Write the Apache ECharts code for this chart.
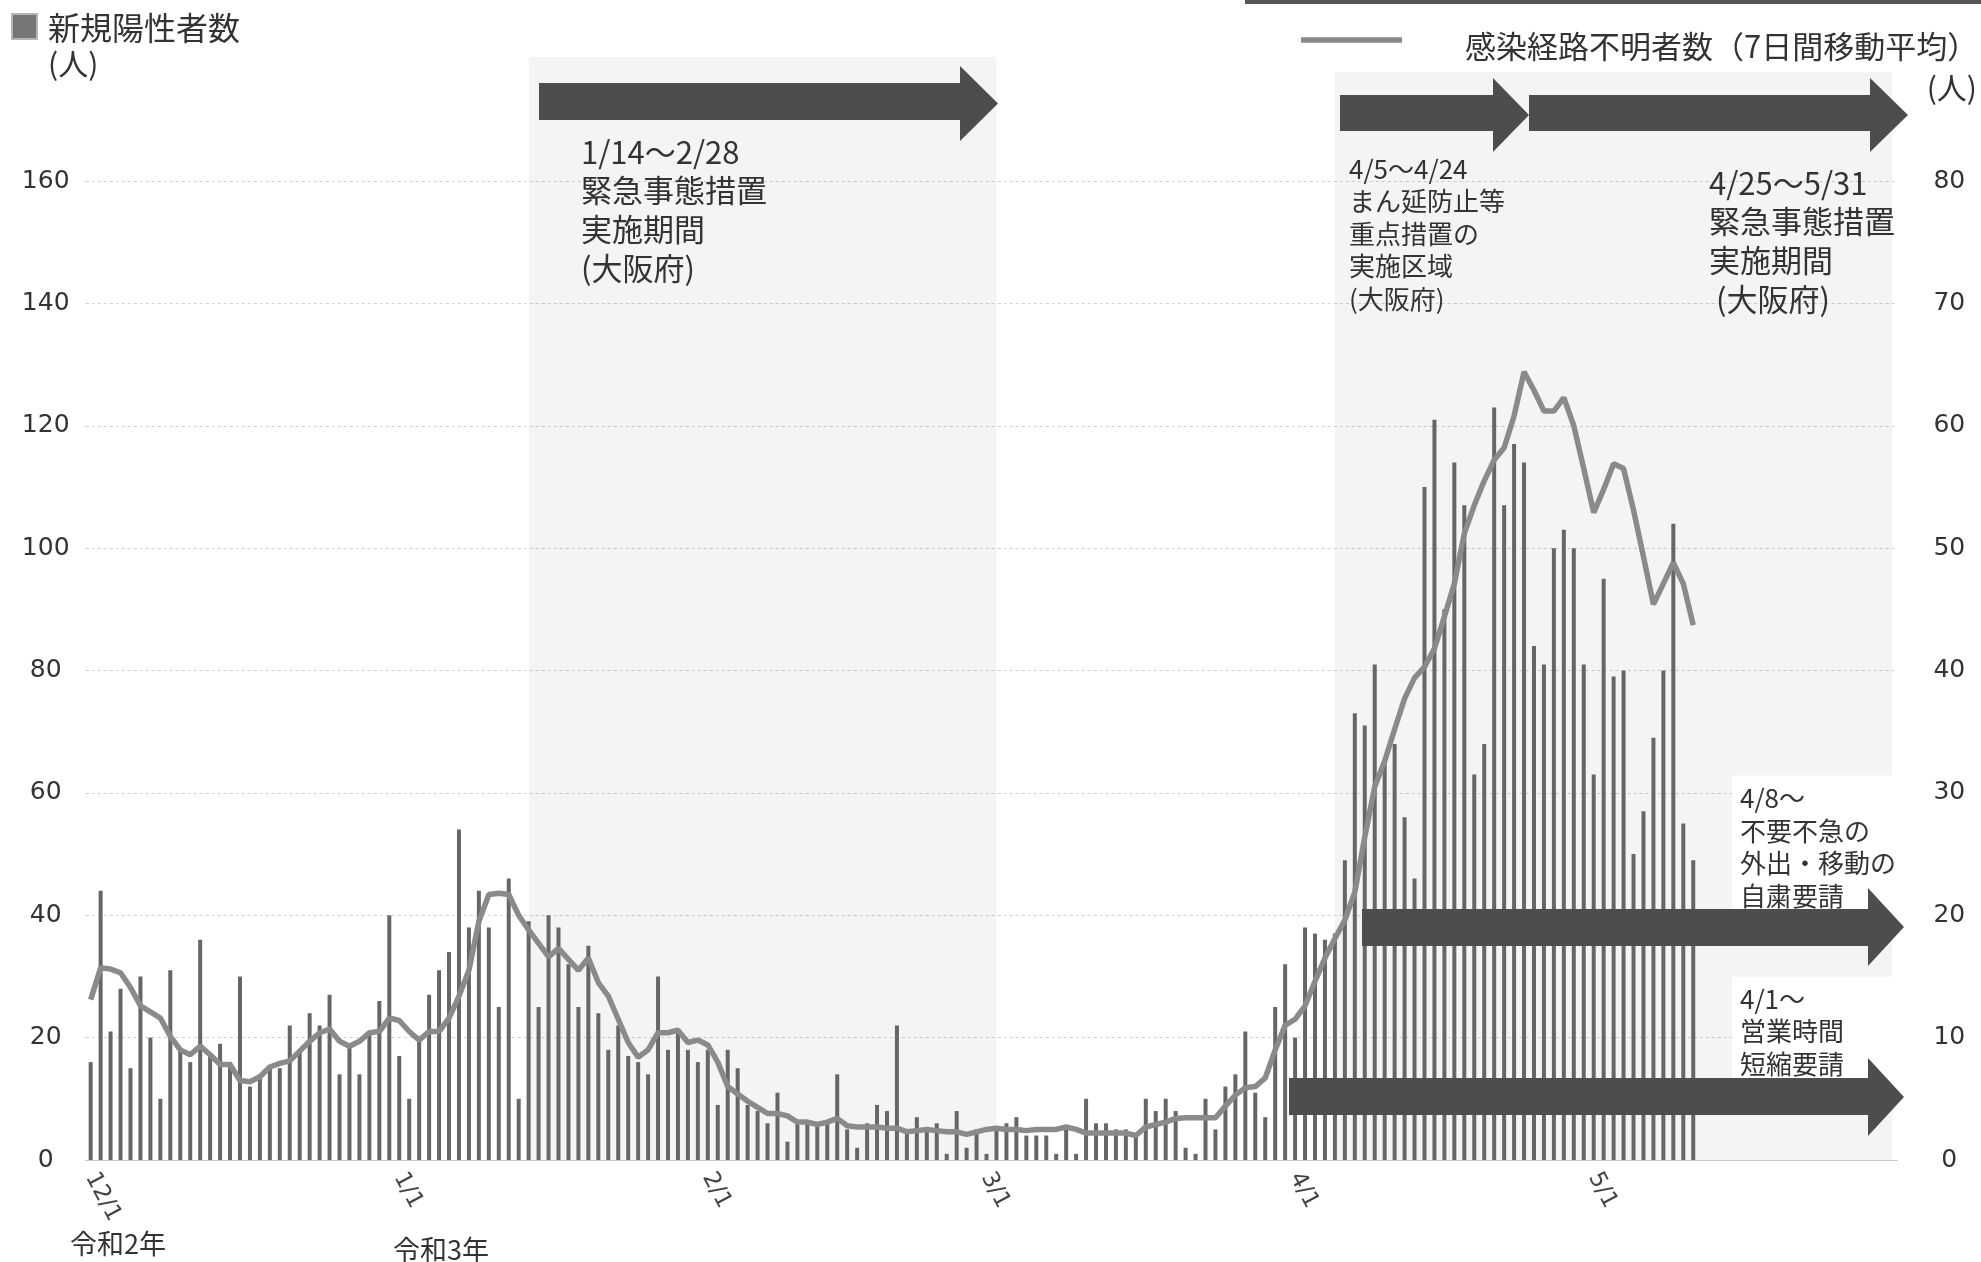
<!DOCTYPE html>
<html><head><meta charset="utf-8">
<script src="https://cdn.jsdelivr.net/npm/echarts@6/dist/echarts.min.js"></script>
<style>html,body{margin:0;padding:0;background:#fff}#c{width:1981px;height:1262px}</style>
</head><body><div id="c"></div>
<script>
// ---- data ----
const monthNums = [12, 1, 2, 3, 4, 5];
const monthDays = [31, 31, 28, 31, 30, 31];
const monthStartLabels = ['12/1', '1/1', '2/1', '3/1', '4/1', '5/1'];
// daily new positive cases (12/1 .. 5/11)
const newCases = [
  16,44,21,28,15,30,20,10,31,18,16,36,17,19,16,30,12,14,15,15,22,18,24,22,27,14,19,14,21,26,40,
  17,10,20,27,31,34,54,38,44,38,25,46,10,39,25,40,38,32,25,35,24,18,22,17,16,14,30,18,21,18,16,
  18,9,18,15,9,8,6,11,3,6,6,6,6,14,5,2,6,9,8,22,5,7,5,6,1,8,2,5,
  1,5,6,7,4,4,4,1,5,1,10,6,6,5,5,4,10,8,10,8,2,1,10,5,12,14,21,11,7,25,32,
  20,38,37,36,37,49,73,71,81,65,68,56,46,110,121,90,114,107,63,68,123,107,117,114,84,81,100,103,100,81,
  63,95,79,80,50,57,69,80,104,55,49
];
// unknown-route cases, 7-day moving average (right axis)
const unknownRouteAvg = [
  13.1,15.7,15.6,15.3,14.1,12.6,12.1,11.6,10.1,9.0,8.6,9.3,8.6,7.8,7.8,6.5,6.4,6.8,7.6,7.9,8.1,8.9,9.7,10.4,10.7,9.7,9.3,9.7,10.4,10.5,11.6,
  11.4,10.5,9.8,10.5,10.5,11.6,13.4,15.5,19.5,21.7,21.8,21.7,20.0,18.8,17.7,16.6,17.3,16.4,15.5,16.5,14.5,13.4,11.5,9.6,8.4,9.0,10.4,10.4,10.6,9.6,9.8,
  9.4,8.0,6.0,5.4,4.8,4.3,3.8,3.8,3.6,3.1,3.1,2.9,3.1,3.4,2.8,2.7,2.7,2.7,2.6,2.6,2.3,2.4,2.5,2.4,2.3,2.3,2.1,2.3,
  2.5,2.6,2.5,2.5,2.4,2.5,2.5,2.5,2.7,2.5,2.2,2.2,2.2,2.2,2.2,2.0,2.7,2.9,3.1,3.4,3.45,3.45,3.45,3.45,4.4,5.3,5.9,6.0,6.7,9.0,11.0,
  11.5,12.6,14.6,16.5,18.1,19.6,21.9,26.4,30.5,32.6,35.2,37.7,39.4,40.3,41.8,44.4,47.1,51.2,53.5,55.5,57.2,58.2,60.8,64.4,62.9,61.2,61.2,62.3,60.0,56.5,
  52.9,54.8,56.9,56.5,53.1,49.3,45.4,47.1,48.8,47.1,43.7
];
const leftAxisTicks = [0, 160, 20];   // min, max, interval
const rightAxisTicks = [0, 80, 10];
const seriesNames = ['新規陽性者数', '感染経路不明者数（7日間移動平均）'];

const categories = [];
monthNums.forEach((m, i) => { for (let d = 1; d <= monthDays[i]; d++) categories.push(m + '/' + d); });

const JP = '"Noto Sans CJK JP", sans-serif';
const TXT = '#333';
const ARROW = '#4d4d4d';

function arrow(x0, x1, xt, yTop, yBot, hTop, hBot) {
  const yc = (hTop + hBot) / 2;
  return { type: 'polygon', z: 100, shape: { points: [[x0, yTop], [x1, yTop], [x1, hTop], [xt, yc], [x1, hBot], [x1, yBot], [x0, yBot]] }, style: { fill: ARROW } };
}
function txt(x, y, text, size, lh, extra) {
  return Object.assign({ type: 'text', z: 90, x: x, y: y, style: Object.assign({ text: text, fill: TXT, font: size + 'px ' + JP, lineHeight: lh, textVerticalAlign: 'top', verticalAlign: 'top' }, extra || {}) });
}

const chart = echarts.init(document.getElementById('c'), null, { renderer: 'canvas' });
chart.setOption({
  animation: false,
  backgroundColor: '#fff',
  grid: { left: 85.7, right: 83.7, top: 181, bottom: 102 },
  xAxis: {
    type: 'category', data: categories, boundaryGap: true,
    axisLine: { show: true, lineStyle: { color: '#c8c8c8' } },
    axisTick: { show: false },
    axisLabel: { interval: (i, v) => monthStartLabels.includes(v), rotate: -62, margin: 14, fontSize: 23, color: '#444', fontFamily: 'DejaVu Sans' }
  },
  yAxis: [
    { type: 'value', min: leftAxisTicks[0], max: leftAxisTicks[1], interval: leftAxisTicks[2], position: 'left',
      axisLine: { show: false }, axisTick: { show: false },
      axisLabel: { fontSize: 25, color: TXT, margin: 40, align: 'center', fontFamily: 'DejaVu Sans' },
      splitLine: { lineStyle: { color: '#d2d2d2', type: [3, 3], width: 1 } } },
    { type: 'value', min: rightAxisTicks[0], max: rightAxisTicks[1], interval: rightAxisTicks[2], position: 'right',
      axisLine: { show: false }, axisTick: { show: false }, splitLine: { show: false },
      axisLabel: { fontSize: 25, color: TXT, margin: 52, align: 'center', fontFamily: 'DejaVu Sans' } }
  ],
  series: [
    { type: 'bar', name: seriesNames[0], data: newCases, yAxisIndex: 0, barWidth: 4, itemStyle: { color: '#666' } },
    { type: 'line', name: seriesNames[1], data: unknownRouteAvg, yAxisIndex: 1, symbol: 'none', showSymbol: false, clip: false,
      lineStyle: { color: '#8a8a8a', width: 5.5 },
      markArea: { silent: true, label: { show: false }, itemStyle: { color: 'rgba(0,0,0,0.045)' },
        data: [[{ xAxis: '1/14', y: 57 }, { xAxis: '3/2', y: 1160 }], [{ xAxis: '4/5', y: 72 }, { xAxis: '5/31', y: 1160 }]] } }
  ],
  graphic: [
    { type: 'rect', z: 100, shape: { x: 1245, y: 0, width: 736, height: 4 }, style: { fill: '#555' } },
    // legend left
    { type: 'rect', z: 100, shape: { x: 12, y: 14, width: 25, height: 25 }, style: { fill: '#767676', stroke: '#b5b5b5', lineWidth: 2 } },
    txt(48, 8, seriesNames[0], 32, 40),
    txt(48, 46, '(人)', 30, 36),
    // legend right
    { type: 'line', z: 100, shape: { x1: 1301, y1: 40, x2: 1402, y2: 40 }, style: { stroke: '#8a8a8a', lineWidth: 5.5 } },
    txt(1465, 26, seriesNames[1], 31, 40),
    txt(1977, 70, '(人)', 30, 36, { textAlign: 'right', align: 'right' }),
    // annotations
    txt(581, 132.6, '1/14〜2/28\n緊急事態措置\n実施期間\n(大阪府)', 31, 38.7),
    txt(1349, 152.7, '4/5〜4/24\nまん延防止等\n重点措置の\n実施区域\n(大阪府)', 26, 32.5),
    txt(1709, 163.6, '4/25〜5/31\n緊急事態措置\n実施期間\n (大阪府)', 31, 38.7),
    txt(1732, 775.6, '4/8〜\n不要不急の\n外出・移動の\n自粛要請', 26, 32.7, { backgroundColor: '#fff', padding: [6, 24, 6, 8] }),
    txt(1732, 976.7, '4/1〜\n営業時間\n短縮要請', 26, 32.5, { backgroundColor: '#fff', padding: [6, 60, 6, 8] }),
    txt(70, 1228, '令和2年', 27, 32),
    txt(393, 1234, '令和3年', 27, 32),
    // arrows
    arrow(539, 960, 998, 83, 120, 66, 141),
    arrow(1340, 1493, 1529, 95, 131, 78, 152),
    arrow(1529, 1870, 1908, 95, 131, 78, 152),
    arrow(1362, 1868, 1904, 909, 946, 888, 966),
    arrow(1289, 1868, 1904, 1078, 1115, 1058, 1136)
  ]
});
</script></body></html>
